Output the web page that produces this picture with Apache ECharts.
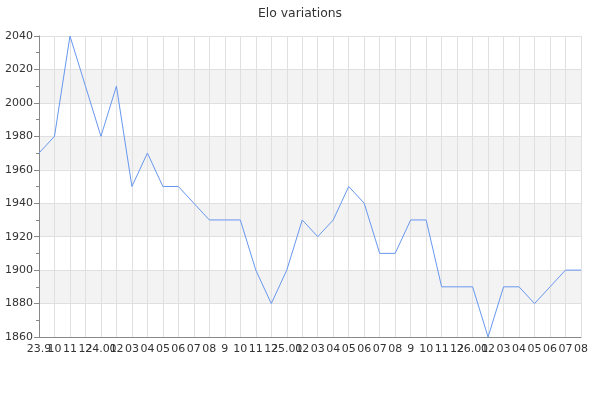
<!DOCTYPE html>
<html>
<head>
<meta charset="utf-8">
<script src="https://cdn.jsdelivr.net/npm/echarts@6/dist/echarts.min.js"></script>
<style>
  html, body { margin: 0; padding: 0; background: #fff; }
  #chart { width: 600px; height: 400px; }
</style>
</head>
<body>
<div id="chart"></div>
<script>
var months = ['23.9', '10', '11', '12', '24.01', '02', '03', '04', '05', '06', '07', '08',
  '9', '10', '11', '12', '25.01', '02', '03', '04', '05', '06', '07', '08',
  '9', '10', '11', '12', '26.01', '02', '03', '04', '05', '06', '07', '08'];

var elo = [1970, 1980, 2040, 2010, 1980, 2010, 1950, 1970, 1950, 1950, 1940, 1930,
  1930, 1930, 1900, 1880, 1900, 1930, 1920, 1930, 1950, 1940, 1910, 1910,
  1930, 1930, 1890, 1890, 1890, 1860, 1890, 1890, 1880, 1890, 1900, 1900];

(function () {
  var mychart = echarts.init(document.getElementById('chart'));

  var option = {
    animation: false,
    title: {
      text: 'Elo variations',
      left: 'center',
      top: 3,
      textStyle: {
        fontFamily: 'DejaVu Sans',
        fontSize: 12.4,
        fontWeight: 'normal',
        color: '#333'
      }
    },
    grid: { left: 39, right: 19, top: 36, bottom: 63 },
    xAxis: {
      type: 'category',
      boundaryGap: false,
      data: months,
      axisLine: { lineStyle: { color: '#888' } },
      axisTick: { show: false },
      axisLabel: {
        interval: 0,
        hideOverlap: false,
        margin: 7,
        fontFamily: 'DejaVu Sans',
        fontSize: 11,
        color: '#333'
      },
      splitLine: { show: true, lineStyle: { color: '#e0e0e0' } }
    },
    yAxis: {
      type: 'value',
      min: 1860,
      max: 2040,
      interval: 20,
      axisLine: { show: true, lineStyle: { color: '#888' } },
      axisTick: { show: true, length: 5, lineStyle: { color: '#888' } },
      minorTick: { show: true, splitNumber: 2, length: 3, lineStyle: { color: '#888' } },
      axisLabel: {
        margin: 6,
        fontFamily: 'DejaVu Sans',
        fontSize: 11,
        color: '#333',
        formatter: function (v) { return String(v); }
      },
      splitLine: { show: true, lineStyle: { color: '#e0e0e0' } },
      splitArea: { show: true, areaStyle: { color: ['#ffffff', '#f3f3f3'] } }
    },
    series: [
      {
        name: 'Elo',
        type: 'line',
        data: elo,
        showSymbol: false,
        lineStyle: { color: '#6797ef', width: 1 },
        itemStyle: { color: '#6797ef' }
      }
    ]
  };
  mychart.setOption(option);
})();
</script>
</body>
</html>
